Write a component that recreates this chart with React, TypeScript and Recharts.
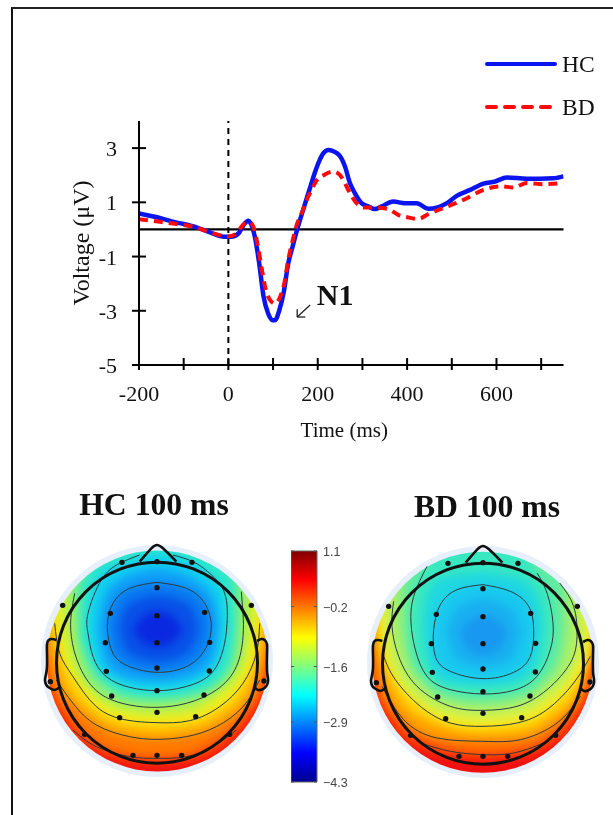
import React from 'react';
import {
  ComposedChart,
  Line,
  Area,
  Bar,
  XAxis,
  YAxis,
  Legend,
  Label,
  ReferenceLine,
  ReferenceDot,
  Scatter
} from 'recharts';

const SERIF = '"Liberation Serif", serif';

// ERP waveform
const hcTimes = [-200, -150, -120, -100, -70, -50, -30, -10, 2, 10, 24, 34, 45, 49, 60, 69, 79, 89, 99, 104, 114, 124, 134, 144, 154, 164, 174, 184, 194, 204, 213, 224, 233, 244, 250, 261, 272, 283, 298, 313, 328, 343, 369, 395, 421, 448, 489, 511, 541, 571, 597, 623, 668, 727, 750];
const hcVoltage = [0.59, 0.41, 0.27, 0.2, 0.07, -0.05, -0.18, -0.27, -0.27, -0.26, -0.12, 0.16, 0.32, 0.25, -0.33, -1.25, -2.5, -3.1, -3.35, -3.35, -2.98, -2.3, -1.25, -0.62, 0, 0.55, 1.08, 1.6, 2.12, 2.55, 2.82, 2.93, 2.9, 2.8, 2.7, 2.32, 1.71, 1.34, 0.97, 0.85, 0.75, 0.85, 1.03, 0.97, 0.97, 0.76, 0.97, 1.24, 1.46, 1.69, 1.77, 1.92, 1.87, 1.89, 1.96];
const bdTimes = [-200, -153, -116, -78, -49, -19, 2, 18, 32, 46, 56, 65, 74, 84, 93, 104, 116, 125, 134, 144, 154, 164, 175, 186, 198, 213, 235, 250, 257, 272, 287, 306, 328, 358, 380, 403, 425, 448, 481, 526, 571, 608, 638, 668, 705, 750];
const bdVoltage = [0.38, 0.28, 0.2, 0.1, -0.06, -0.21, -0.25, -0.15, 0.16, 0.28, 0.1, -0.52, -1.38, -2.24, -2.6, -2.73, -2.48, -2, -1.13, -0.4, 0.22, 0.59, 1.08, 1.45, 1.82, 2.0, 2.14, 2.0, 1.83, 1.34, 0.97, 0.81, 0.81, 0.75, 0.54, 0.44, 0.39, 0.57, 0.79, 1.09, 1.46, 1.59, 1.55, 1.71, 1.67, 1.71];

const timeTicks = [-200, -100, 0, 100, 200, 300, 400, 500, 600, 700];
const voltTicks = [3, 1, -1, -3, -5];

const hcData = hcTimes.map((t, i) => ({ t, v: hcVoltage[i] }));
const bdData = bdTimes.map((t, i) => ({ t, v: bdVoltage[i] }));

// Scalp maps: [x, y] in map units, nose up, centre of the disk at 0,0
const electrodes = [[-105, 296], [105, 296], [0, 298], [-283, 167], [283, 167], [0, 220], [-140, 143], [143, 146], [0, 136], [-155, 55], [158, 56], [0, 55], [-152, -31], [157, -30], [0, -21], [-136, -105], [141, -102], [0, -89], [-112, -170], [116, -167], [0, -154], [-217, -220], [218, -220], [-72, -283], [0, -283], [74, -283], [-320, -62], [321, -60]];
const nose = [[-52, 298], [-17, 338], [0, 348], [18, 338], [58, 298]];
const earLeft = [[-302, 63], [-315, 66], [-325, 63], [-330, 50], [-330, 20], [-330, -17], [-333, -40], [-336, -57], [-332, -72], [-322, -81], [-307, -87], [-292, -79]];
const earRight = [[300, 60], [313, 66], [323, 63], [330, 50], [330, 20], [330, -27], [332, -45], [333, -62], [328, -75], [318, -84], [303, -87], [293, -79]];

const hcContours = [
  [[0, 236], [88, 218], [143, 173], [163, 103], [143, 33], [88, -17], [0, -34], [-82, -17], [-132, 23], [-149, 103], [-132, 173], [-82, 218], [0, 236]],
  [[-52, 318], [-112, 293], [-167, 243], [-207, 143], [-207, 83], [-192, 13], [-152, -47], [-82, -79], [0, -89], [78, -79], [158, -42], [198, 33], [210, 113], [203, 203], [158, 263], [108, 298], [48, 318]],
  [[-247, 203], [-257, 143], [-257, 73], [-232, -17], [-172, -97], [-82, -132], [0, -139], [88, -127], [178, -87], [238, -17], [258, 73], [258, 143], [253, 208]],
  [[-307, 113], [-292, 23], [-252, -47], [-182, -137], [-92, -177], [0, -185], [98, -179], [188, -137], [258, -67], [298, 23], [308, 113]],
  [[-302, -57], [-252, -127], [-182, -192], [-82, -227], [0, -235], [88, -227], [178, -197], [258, -137], [308, -57]],
  [[-252, -207], [-182, -257], [-82, -287], [0, -292], [88, -287], [168, -257], [238, -207]]
];
const bdContours = [
  [[0, 232], [82, 212], [137, 167], [152, 97], [142, 17], [92, -31], [0, -50], [-98, -28], [-143, 17], [-148, 97], [-128, 172], [-78, 217], [0, 232]],
  [[-168, 287], [-208, 197], [-216, 117], [-203, 37], [-168, -43], [-98, -83], [0, -96], [92, -85], [162, -43], [202, 37], [210, 117], [192, 207], [162, 267]],
  [[-268, 182], [-273, 107], [-253, 17], [-198, -73], [-98, -133], [0, -145], [102, -133], [192, -83], [262, -3], [282, 77], [272, 167], [230, 237]],
  [[-298, 17], [-263, -53], [-188, -133], [-98, -183], [0, -193], [102, -183], [192, -143], [272, -63], [322, 17]],
  [[-303, -73], [-238, -173], [-138, -228], [0, -238], [112, -233], [222, -183], [292, -103]],
  [[-188, -243], [-98, -268], [0, -278], [92, -273], [182, -243]]
];

// Colour bands, outermost first: colour, then [x, low, high]
const TOP = 400;
const hcBands: [string, number[][]][] = [
  ['#ee1212', [[-375, -375, TOP], [375, -375, TOP]]],
  ['#ff3c00', [[-375, 100, TOP], [-352, -17, TOP], [-282, -177, TOP], [-182, -272, TOP], [-82, -302, TOP], [0, -309, TOP], [88, -302, TOP], [178, -272, TOP], [278, -177, TOP], [358, -17, TOP], [375, 100, TOP]]],
  ['#ff7800', [[-352, 113, TOP], [-322, -57, TOP], [-252, -182, TOP], [-182, -247, TOP], [-82, -282, TOP], [0, -289, TOP], [88, -282, TOP], [168, -247, TOP], [258, -167, TOP], [318, -57, TOP], [358, 123, TOP]]],
  ['#ffa800', [[-352, 220, TOP], [-330, 60, TOP], [-302, -57, TOP], [-252, -127, TOP], [-182, -192, TOP], [-82, -227, TOP], [0, -235, TOP], [88, -227, TOP], [178, -197, TOP], [258, -137, TOP], [308, -57, TOP], [333, 60, TOP], [358, 220, TOP]]],
  ['#ffd000', [[-352, 300, TOP], [-325, 140, TOP], [-300, 40, TOP], [-272, -67, TOP], [-182, -162, TOP], [-82, -202, TOP], [0, -209, TOP], [88, -202, TOP], [188, -162, TOP], [268, -87, TOP], [305, 30, TOP], [330, 140, TOP], [358, 300, TOP]]],
  ['#f0f020', [[-340, 350, TOP], [-330, 200, TOP], [-307, 113, TOP], [-292, 23, TOP], [-252, -47, TOP], [-182, -137, TOP], [-92, -177, TOP], [0, -185, TOP], [98, -179, TOP], [188, -137, TOP], [258, -67, TOP], [298, 23, TOP], [308, 113, TOP], [330, 200, TOP], [345, 350, TOP]]],
  ['#c0f040', [[-300, 300, TOP], [-285, 120, TOP], [-265, 20, TOP], [-210, -80, TOP], [-90, -155, TOP], [0, -162, TOP], [95, -155, TOP], [180, -110, TOP], [250, -40, TOP], [280, 60, TOP], [290, 130, TOP], [305, 300, TOP]]],
  ['#80f080', [[-270, 300, TOP], [-257, 143, TOP], [-232, -17, TOP], [-172, -97, TOP], [-82, -132, TOP], [0, -139, TOP], [88, -127, TOP], [178, -87, TOP], [238, -17, TOP], [258, 73, TOP], [270, 300, TOP]]],
  ['#30e8c8', [[-232, 70, 220], [-212, 13, 293], [-152, -72, TOP], [-82, -105, TOP], [0, -113, TOP], [88, -105, TOP], [178, -67, TOP], [228, 13, 293], [238, 113, 213]]],
  ['#10d0f0', [[-207, 83, 143], [-192, 13, 223], [-152, -47, 278], [-112, -65, 293], [-82, -79, 305], [0, -89, 322], [78, -79, 310], [108, -70, 298], [158, -42, 263], [198, 33, 215], [210, 113, 113]]],
  ['#10a0f8', [[-178, 100, 100], [-160, 10, 190], [-120, -40, 240], [-50, -60, 270], [0, -64, 278], [50, -60, 270], [120, -40, 240], [170, 10, 190], [187, 110, 110]]],
  ['#0878f0', [[-149, 103, 103], [-132, 23, 173], [-82, -17, 218], [0, -34, 236], [88, -17, 218], [143, 33, 173], [163, 103, 103]]],
  ['#0850e8', [[-115, 100, 100], [-90, 30, 165], [-40, 5, 190], [0, -2, 196], [45, 5, 190], [100, 35, 165], [125, 100, 100]]],
  ['#0a28e0', [[-72, 95, 95], [-40, 55, 135], [0, 42, 150], [45, 55, 135], [78, 95, 95]]]
];
const bdBands: [string, number[][]][] = [
  ['#f01010', [[-375, -375, TOP], [375, -375, TOP]]],
  ['#ff4000', [[-375, 100, TOP], [-352, -17, TOP], [-282, -177, TOP], [-182, -262, TOP], [-82, -285, TOP], [0, -292, TOP], [88, -287, TOP], [178, -262, TOP], [278, -177, TOP], [352, -17, TOP], [375, 100, TOP]]],
  ['#ff7000', [[-352, 113, TOP], [-322, -57, TOP], [-252, -182, TOP], [-182, -232, TOP], [-98, -262, TOP], [0, -272, TOP], [92, -267, TOP], [182, -237, TOP], [262, -160, TOP], [318, -57, TOP], [358, 123, TOP]]],
  ['#ffa000', [[-352, 220, TOP], [-325, 40, TOP], [-303, -73, TOP], [-238, -173, TOP], [-138, -228, TOP], [0, -238, TOP], [112, -233, TOP], [222, -183, TOP], [292, -103, TOP], [330, 40, TOP], [358, 220, TOP]]],
  ['#ffd000', [[-352, 300, TOP], [-322, 100, TOP], [-300, 0, TOP], [-250, -113, TOP], [-160, -180, TOP], [0, -215, TOP], [110, -208, TOP], [205, -165, TOP], [285, -85, TOP], [322, 30, TOP], [340, 100, TOP], [358, 300, TOP]]],
  ['#f0f030', [[-340, 350, TOP], [-310, 100, TOP], [-298, 17, TOP], [-263, -53, TOP], [-188, -133, TOP], [-98, -183, TOP], [0, -193, TOP], [102, -183, TOP], [192, -143, TOP], [272, -63, TOP], [322, 17, TOP], [335, 100, TOP], [358, 350, TOP]]],
  ['#c8f050', [[-300, 330, TOP], [-290, 100, TOP], [-270, -10, TOP], [-210, -100, TOP], [-98, -158, TOP], [0, -169, TOP], [100, -158, TOP], [195, -112, TOP], [270, -30, TOP], [305, 60, TOP], [315, 330, TOP]]],
  ['#a0f070', [[-285, 300, TOP], [-273, 107, TOP], [-253, 17, TOP], [-198, -73, TOP], [-98, -133, TOP], [0, -145, TOP], [102, -133, TOP], [192, -83, TOP], [262, -3, TOP], [282, 77, TOP], [275, 300, TOP]]],
  ['#60eca0', [[-240, 110, 300], [-225, 20, TOP], [-180, -60, TOP], [-98, -110, TOP], [0, -122, TOP], [98, -110, TOP], [178, -65, TOP], [232, 20, TOP], [245, 100, 300]]],
  ['#38e8c0', [[-216, 117, 117], [-208, 37, 197], [-168, -43, 287], [-98, -83, TOP], [0, -96, TOP], [92, -85, TOP], [162, -43, 267], [202, 37, 197], [210, 117, 117]]],
  ['#20d8e0', [[-180, 110, 110], [-170, 20, 200], [-120, -60, 255], [0, -72, 270], [100, -60, 255], [165, 10, 195], [180, 110, 110]]],
  ['#18c8f0', [[-148, 97, 97], [-143, 17, 150], [-128, -10, 172], [-78, -38, 217], [0, -50, 232], [92, -31, 212], [137, 10, 167], [152, 97, 97]]],
  ['#18b0f0', [[-110, 90, 90], [-80, 10, 160], [0, -15, 190], [85, 10, 160], [115, 90, 90]]],
  ['#1898f0', [[-70, 85, 85], [-40, 35, 125], [0, 20, 140], [45, 35, 125], [75, 85, 85]]]
];

const barTicks = [1.1, -0.2, -1.6, -2.9, -4.3];
const barData = [{ name: 'scale', range: [-4.3, 1.1] }];
const jetStops = [
  ['0%', '#800000'], ['12.5%', '#ff0000'], ['37.5%', '#ffff00'], ['62.5%', '#00ffff'], ['87.5%', '#0000ff'], ['100%', '#00008f']
];

const toPoints = (rows: number[][]) => rows.map(([x, y]) => ({ x, y }));

const XTick = ({ x, y, payload }: any) => (
  <g>
    <line x1={x} x2={x} y1={y - 7} y2={y + 5} stroke="#000" strokeWidth={2} />
    {payload.value % 200 === 0 && (
      <text x={x} y={y + 36} textAnchor="middle" fontFamily={SERIF} fontSize={22} fill="#111">
        {payload.value}
      </text>
    )}
  </g>
);

const YTick = ({ x, y, payload }: any) => (
  <g>
    <line x1={x - 7} x2={x + 7} y1={y} y2={y} stroke="#000" strokeWidth={2} />
    <text x={x - 22} y={y + 8} textAnchor="end" fontFamily={SERIF} fontSize={22} fill="#111">
      {payload.value}
    </text>
  </g>
);

const BarTick = ({ x, y, payload }: any) => (
  <g>
    <line x1={x - 26} x2={x - 23} y1={y} y2={y} stroke="#555" />
    <line x1={x - 3} x2={x} y1={y} y2={y} stroke="#555" />
    <text x={x + 6} y={y + 5} fontFamily='"Liberation Sans", sans-serif' fontSize={12.5} fill="#444">
      {String(payload.value).replace('-', '\u2212')}
    </text>
  </g>
);

const LegendRows = ({ payload }: any) => (
  <svg width={130} height={70} style={{ display: 'block' }}>
    {(payload || []).map((entry: any, i: number) => (
      <g key={entry.value}>
        <line
          x1={3}
          x2={i === 0 ? 71 : 67}
          y1={14 + i * 43}
          y2={14 + i * 43}
          stroke={entry.color}
          strokeWidth={4}
          strokeLinecap="round"
          strokeDasharray={i === 0 ? undefined : '9 9'}
        />
        <text x={78} y={22 + i * 43} fontFamily={SERIF} fontSize={23.5} fill="#111">
          {entry.value}
        </text>
      </g>
    ))}
  </svg>
);

const WaveChart = () => (
  <ComposedChart width={613} height={470} margin={{ top: 121, right: 49.5, bottom: 0, left: 0 }}>
    <XAxis
      dataKey="t"
      type="number"
      domain={[-200, 750]}
      ticks={timeTicks}
      allowDataOverflow
      tick={<XTick />}
      tickLine={false}
      tickSize={0}
      tickMargin={0}
      interval={0}
      stroke="#000"
      strokeWidth={2}
      height={105}
    >
      <Label value="Time (ms)" position="insideBottom" offset={33} dx={-7} fontFamily={SERIF} fontSize={21} fill="#111" />
    </XAxis>
    <YAxis
      dataKey="v"
      type="number"
      domain={[-5, 4]}
      ticks={voltTicks}
      allowDataOverflow
      tick={<YTick />}
      tickLine={false}
      tickSize={0}
      tickMargin={0}
      interval={0}
      stroke="#000"
      strokeWidth={2}
      width={139}
    >
      <Label value="Voltage (μV)" angle={-90} position="insideLeft" offset={0} dx={80} dy={0} fontFamily={SERIF} fontSize={24} fill="#111" style={{ textAnchor: 'middle' }} />
    </YAxis>
    <ReferenceLine y={0} stroke="#000" strokeWidth={2.2} />
    <ReferenceLine x={0} stroke="#000" strokeWidth={2} strokeDasharray="6 5" />
    <Line data={hcData} dataKey="v" name="HC" type="monotone" stroke="#0a14ee" strokeWidth={4.5} dot={false} isAnimationActive={false} />
    <Line data={bdData} dataKey="v" name="BD" type="monotone" stroke="#ff0a0a" strokeWidth={4} strokeDasharray="9 6" dot={false} isAnimationActive={false} />
    <ReferenceLine segment={[{ x: 154, y: -3.23 }, { x: 183, y: -2.79 }]} stroke="#222" strokeWidth={1.3} />
    <ReferenceLine segment={[{ x: 154, y: -3.23 }, { x: 154, y: -2.94 }]} stroke="#222" strokeWidth={1.3} />
    <ReferenceLine segment={[{ x: 154, y: -3.23 }, { x: 172, y: -3.23 }]} stroke="#222" strokeWidth={1.3} />
    <ReferenceDot x={198} y={-2.38} r={0} fill="none" stroke="none">
      <Label value="N1" position="right" offset={0} fontFamily={SERIF} fontWeight="bold" fontSize={30} fill="#111" />
    </ReferenceDot>
    <Legend
      layout="vertical"
      align="center"
      verticalAlign="middle"
      itemSorter={null}
      content={<LegendRows />}
      wrapperStyle={{ left: 484, top: 50, width: 130, height: 70 }}
    />
  </ComposedChart>
);

const MapAxes = () => (
  <>
    <XAxis dataKey="x" type="number" domain={[-375, 375]} allowDataOverflow hide />
    <YAxis type="number" domain={[-375, 375]} allowDataOverflow hide />
  </>
);

const MAP_SIZE = 250;

const ScalpMap = ({ cx, cy, bands, contours }: { cx: number; cy: number; bands: [string, number[][]][]; contours: number[][][] }) => {
  const box: React.CSSProperties = { position: 'absolute', left: cx - MAP_SIZE / 2, top: cy - MAP_SIZE / 2, width: MAP_SIZE, height: MAP_SIZE };
  return (
    <>
      <div style={{ position: 'absolute', left: cx - 116, top: cy - 116, width: 232, height: 232, borderRadius: '50%', background: '#e7f0fa' }} />
      <div style={{ ...box, filter: 'blur(4.5px)', clipPath: 'circle(110.5px at 50% 50%)' }}>
        <ComposedChart width={MAP_SIZE} height={MAP_SIZE} margin={{ top: 0, right: 0, bottom: 0, left: 0 }}>
          {MapAxes()}
          {bands.map(([color, rows]) => (
            <Area
              key={color}
              data={rows.map(([x, low, high]) => ({ x, band: [low, high] }))}
              dataKey="band"
              type="monotone"
              fill={color}
              fillOpacity={1}
              stroke="none"
              dot={false}
              isAnimationActive={false}
            />
          ))}
        </ComposedChart>
      </div>
      <div style={box}>
        <ComposedChart width={MAP_SIZE} height={MAP_SIZE} margin={{ top: 0, right: 0, bottom: 0, left: 0 }}>
          {MapAxes()}
          {contours.map((rows, i) => (
            <Line key={i} data={toPoints(rows)} dataKey="y" type="natural" stroke="#2c3a40" strokeWidth={1} dot={false} isAnimationActive={false} />
          ))}
          <ReferenceDot x={0} y={-5} r={100.5} fill="none" stroke="#111" strokeWidth={3} />
          <Line data={toPoints(nose)} dataKey="y" type="natural" stroke="#111" strokeWidth={2.6} dot={false} isAnimationActive={false} />
          <Line data={toPoints(earLeft)} dataKey="y" type="natural" stroke="#111" strokeWidth={2.6} dot={false} isAnimationActive={false} />
          <Line data={toPoints(earRight)} dataKey="y" type="natural" stroke="#111" strokeWidth={2.6} dot={false} isAnimationActive={false} />
          <Scatter
            data={toPoints(electrodes)}
            dataKey="y"
            isAnimationActive={false}
            shape={(p: any) => <circle cx={p.cx} cy={p.cy} r={2.7} fill="#111" />}
          />
        </ComposedChart>
      </div>
    </>
  );
};

const ColorBar = () => (
  <div style={{ position: 'absolute', left: 291, top: 541 }}>
    <ComposedChart width={70} height={251} data={barData} margin={{ top: 10, right: 0, bottom: 10, left: 0 }} barCategoryGap={0}>
      <defs>
        <linearGradient id="jet" x1="0" y1="0" x2="0" y2="1">
          {jetStops.map(([offset, color]) => (
            <stop key={offset} offset={offset} stopColor={color} />
          ))}
        </linearGradient>
      </defs>
      <XAxis dataKey="name" hide />
      <YAxis
        orientation="right"
        type="number"
        domain={[-4.3, 1.1]}
        ticks={barTicks}
        interval={0}
        width={44}
        axisLine={false}
        tickLine={false}
        tickSize={0}
        tickMargin={0}
        tick={<BarTick />}
      />
      <Bar dataKey="range" fill="url(#jet)" stroke="#666" strokeWidth={1} isAnimationActive={false} />
    </ComposedChart>
  </div>
);

const titleStyle: React.CSSProperties = {
  position: 'absolute',
  fontFamily: SERIF,
  fontWeight: 'bold',
  fontSize: 31.7,
  lineHeight: '36px',
  color: '#111',
  whiteSpace: 'nowrap',
  transform: 'translateX(-50%)'
};

export default function App() {
  return (
    <div style={{ position: 'absolute', left: 0, top: 0, width: 613, height: 815, background: '#fff', overflow: 'hidden', filter: 'blur(0.35px)' }}>
      <div style={{ position: 'absolute', left: 11, top: 7, right: 0, bottom: 0, borderLeft: '2px solid #111', borderTop: '2px solid #222' }} />
      <WaveChart />
      <div style={{ ...titleStyle, left: 154, top: 487 }}>HC 100 ms</div>
      <div style={{ ...titleStyle, left: 487, top: 489 }}>BD 100 ms</div>
      <ScalpMap cx={157.3} cy={661} bands={hcBands} contours={hcContours} />
      <ScalpMap cx={482.7} cy={662.3} bands={bdBands} contours={bdContours} />
      <ColorBar />
    </div>
  );
}
